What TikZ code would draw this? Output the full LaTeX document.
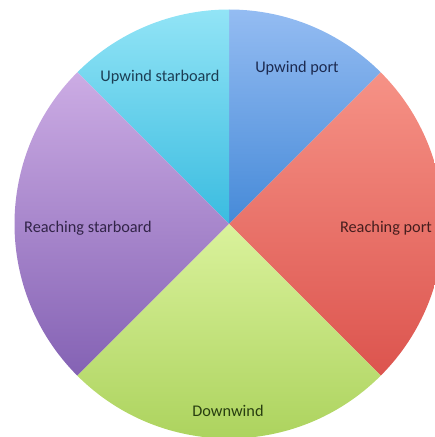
\documentclass[tikz,border=0pt]{standalone}
\usepackage{fontspec}
\setmainfont{Carlito}
\definecolor{PortTop}{RGB}{148, 188, 242}
\definecolor{PortLow}{RGB}{70, 138, 216}
\definecolor{StarTop}{RGB}{146, 228, 246}
\definecolor{StarLow}{RGB}{58, 188, 224}
\definecolor{ReachPortTop}{RGB}{246, 146, 134}
\definecolor{ReachPortLow}{RGB}{220, 84, 78}
\definecolor{ReachStarTop}{RGB}{204, 172, 228}
\definecolor{ReachStarLow}{RGB}{132, 98, 180}
\definecolor{DownTop}{RGB}{218, 242, 156}
\definecolor{DownLow}{RGB}{168, 208, 88}
\usepackage{tikz}
\usetikzlibrary{positioning}

\begin{document}
\begin{tikzpicture}[x=1pt, y=1pt,
    slicelabel/.style={font=\fontsize{16.3}{18}\selectfont, inner sep=0pt}]
    \useasboundingbox (0,0) rectangle (435,437);
    \clip (0,0) rectangle (435,437);
    \coordinate (hub) at (229,213);
    % the five sectors of the wind circle
    \shade[top color=PortTop, bottom color=PortLow] (hub) -- ++(90:214.5) arc (90:45:214.5) -- cycle;
    \shade[top color=StarTop, bottom color=StarLow] (hub) -- ++(90:214.5) arc (90:135:214.5) -- cycle;
    \shade[top color=ReachPortTop, bottom color=ReachPortLow] (hub) -- ++(45:214.5) arc (45:-45:214.5) -- cycle;
    \shade[top color=ReachStarTop, bottom color=ReachStarLow] (hub) -- ++(135:214.5) arc (135:225:214.5) -- cycle;
    \shade[top color=DownTop, bottom color=DownLow] (hub) -- ++(225:214.5) arc (225:315:214.5) -- cycle;
    % labels
    \node[slicelabel, text={rgb,255:red,28;green,62;blue,84}] (upstar) at (160,360) {Upwind starboard};
    \node[slicelabel, text={rgb,255:red,28;green,42;blue,80}] (upport) at (297,369) {Upwind port};
    \node[slicelabel, text={rgb,255:red,50;green,36;blue,72}] (reachstar) at (88,209) {Reaching starboard};
    \node[slicelabel, text={rgb,255:red,70;green,30;blue,30}] (reachport) at (386,209) {Reaching port};
    \node[slicelabel, text={rgb,255:red,40;green,62;blue,16}] (down) at (228,26) {Downwind};
  \end{tikzpicture}
\end{document}
